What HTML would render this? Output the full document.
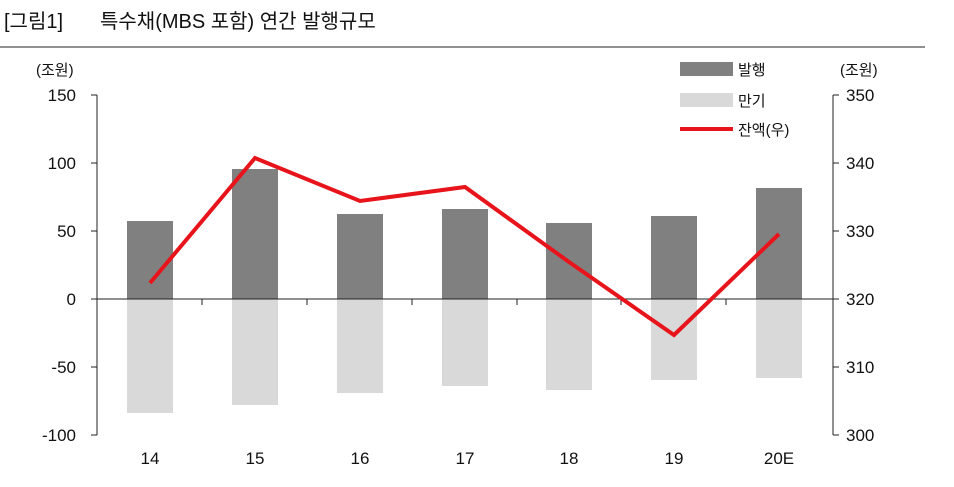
<!DOCTYPE html>
<html><head><meta charset="utf-8"><style>
body{margin:0;background:#fff;}
svg text{font-family:"Liberation Sans","Noto Sans CJK KR",sans-serif;}
</style></head><body>
<svg width="954" height="482" xmlns="http://www.w3.org/2000/svg">
<text x="4" y="28" font-size="20" fill="#111">[그림1]</text>
<text x="100" y="28" font-size="20" fill="#111">특수채(MBS 포함) 연간 발행규모</text>
<line x1="0" y1="47" x2="925" y2="47" stroke="#222" stroke-width="1"/>
<text x="36" y="75" font-size="15" fill="#111">(조원)</text>
<text x="840" y="75" font-size="15" fill="#111">(조원)</text>
<!-- legend -->
<rect x="680" y="62" width="53" height="14" fill="#808080"/>
<text x="738" y="75" font-size="15" fill="#111">발행</text>
<rect x="680" y="93" width="53" height="14" fill="#d9d9d9"/>
<text x="738" y="106" font-size="15" fill="#111">만기</text>
<line x1="680" y1="129" x2="733" y2="129" stroke="#e8141b" stroke-width="4"/>
<text x="738" y="135" font-size="15" fill="#111">잔액(우)</text>
<!-- bars -->
<g fill="#808080">
<rect x="127" y="221" width="46" height="78"/>
<rect x="232" y="169" width="46" height="130"/>
<rect x="337" y="214" width="46" height="85"/>
<rect x="442" y="209" width="46" height="90"/>
<rect x="546" y="223" width="46" height="76"/>
<rect x="651" y="216" width="46" height="83"/>
<rect x="756" y="188" width="46" height="111"/>
</g>
<g fill="#d9d9d9">
<rect x="127" y="299" width="46" height="114"/>
<rect x="232" y="299" width="46" height="106"/>
<rect x="337" y="299" width="46" height="94"/>
<rect x="442" y="299" width="46" height="87"/>
<rect x="546" y="299" width="46" height="91"/>
<rect x="651" y="299" width="46" height="81"/>
<rect x="756" y="299" width="46" height="79"/>
</g>
<!-- axes -->
<g stroke="#222" stroke-width="1">
<line x1="97" y1="95" x2="97" y2="435"/>
<line x1="833" y1="95" x2="833" y2="435"/>
<line x1="97" y1="299" x2="833" y2="299"/>
<line x1="91" y1="95" x2="97" y2="95"/><line x1="91" y1="163" x2="97" y2="163"/>
<line x1="91" y1="231" x2="97" y2="231"/><line x1="91" y1="299" x2="97" y2="299"/>
<line x1="91" y1="367" x2="97" y2="367"/><line x1="91" y1="435" x2="97" y2="435"/>
<line x1="833" y1="95" x2="839" y2="95"/><line x1="833" y1="163" x2="839" y2="163"/>
<line x1="833" y1="231" x2="839" y2="231"/><line x1="833" y1="299" x2="839" y2="299"/>
<line x1="833" y1="367" x2="839" y2="367"/><line x1="833" y1="435" x2="839" y2="435"/>
<line x1="202" y1="299" x2="202" y2="305"/><line x1="307" y1="299" x2="307" y2="305"/>
<line x1="412" y1="299" x2="412" y2="305"/><line x1="517" y1="299" x2="517" y2="305"/>
<line x1="621" y1="299" x2="621" y2="305"/><line x1="726" y1="299" x2="726" y2="305"/>
</g>
<g font-size="17" fill="#111" text-anchor="end">
<text x="76" y="101">150</text><text x="76" y="169">100</text><text x="76" y="237">50</text>
<text x="76" y="305">0</text><text x="76" y="373">-50</text><text x="76" y="441">-100</text>
</g>
<g font-size="17" fill="#111">
<text x="846" y="101">350</text><text x="846" y="169">340</text><text x="846" y="237">330</text>
<text x="846" y="305">320</text><text x="846" y="373">310</text><text x="846" y="441">300</text>
</g>
<g font-size="17" fill="#111" text-anchor="middle">
<text x="150" y="464">14</text><text x="255" y="464">15</text><text x="360" y="464">16</text>
<text x="465" y="464">17</text><text x="569" y="464">18</text><text x="674" y="464">19</text>
<text x="779" y="464">20E</text>
</g>
<polyline points="150,283 255,158 360,201 465,187 569,262 674,335 779,234" fill="none" stroke="#e8141b" stroke-width="4" stroke-linejoin="miter"/>
</svg>
</body></html>
